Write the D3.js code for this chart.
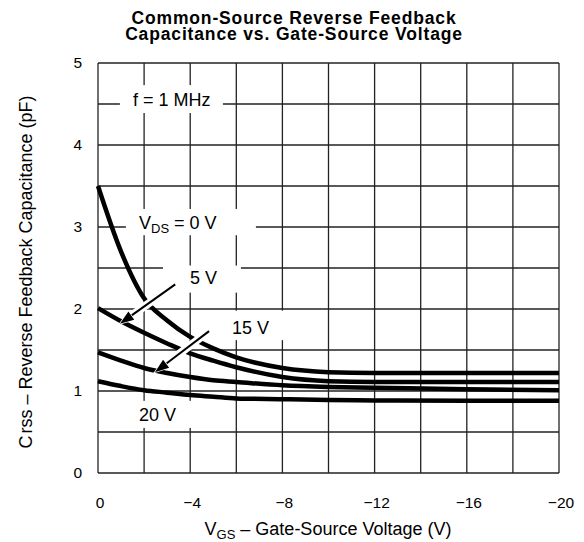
<!DOCTYPE html>
<html>
<head>
<meta charset="utf-8">
<script src="https://cdn.jsdelivr.net/npm/d3@7"></script>
<style>
  html, body { margin: 0; padding: 0; background: #fff; }
  svg { display: block; font-family: "Liberation Sans", Arial, sans-serif; }
</style>
</head>
<body>
<svg id="chart" width="584" height="542"></svg>
<script>
// ---- data ----
const vgs = [0, -1, -2, -3, -4, -5, -6, -8, -10, -12, -16, -20];
const crssVds0  = [3.50, 2.70, 2.13, 1.86, 1.66, 1.52, 1.41, 1.28, 1.23, 1.22, 1.22, 1.22];
const crssVds5  = [2.01, 1.85, 1.71, 1.58, 1.46, 1.37, 1.29, 1.17, 1.12, 1.11, 1.11, 1.11];
const crssVds15 = [1.47, 1.37, 1.28, 1.22, 1.17, 1.13, 1.11, 1.07, 1.05, 1.04, 1.02, 1.01];
const crssVds20 = [1.12, 1.06, 1.01, 0.98, 0.95, 0.93, 0.91, 0.90, 0.89, 0.885, 0.88, 0.88];
const seriesNames = ["VDS = 0 V", "5 V", "15 V", "20 V"];
const xTicks = [0, -4, -8, -12, -16, -20];
const yTicks = [0, 1, 2, 3, 4, 5];
const xTickLabels = ["0", "\u22124", "\u22128", "\u221212", "\u221216", "\u221220"];
const titleLines = ["Common-Source Reverse Feedback", "Capacitance vs. Gate-Source Voltage"];

// ---- layout ----
const W = 584, H = 542;
const m = {left: 98, right: 25, top: 63, bottom: 69};
const svg = d3.select("#chart");
const x = d3.scaleLinear().domain([0, -20]).range([m.left, W - m.right]);
const y = d3.scaleLinear().domain([0, 5]).range([H - m.bottom, m.top]);

// grid
const grid = svg.append("g").attr("stroke", "#222").attr("stroke-width", 1.3);
d3.range(0, -20.001, -2).forEach(v => {
  grid.append("line").attr("x1", x(v)).attr("x2", x(v)).attr("y1", y(0)).attr("y2", y(5));
});
d3.range(0, 5.001, 0.5).forEach(v => {
  grid.append("line").attr("x1", x(0)).attr("x2", x(-20)).attr("y1", y(v)).attr("y2", y(v));
});

// label boxes (white backgrounds that break the grid)
function box(x0, x1, y0, y1) {
  svg.append("rect").attr("x", x(x0)).attr("y", y(y1))
    .attr("width", x(x1) - x(x0)).attr("height", y(y0) - y(y1)).attr("fill", "#fff");
}
box(-0.95, -5.42, 4.39, 4.73);   // f = 1 MHz
box(-1.21, -6.85, 2.90, 3.22);   // VDS = 0 V
box(-2.82, -6.2, 2.20, 2.53);    // 5 V
box(-5.0, -8.8, 1.62, 1.98);     // 15 V
box(-1.39, -4.4, 0.55, 0.88);    // 20 V

// curves
const line = d3.line().x((d, i) => x(vgs[i])).y(d => y(d)).curve(d3.curveMonotoneX);
const all = [crssVds0, crssVds5, crssVds15, crssVds20];
const curves = svg.append("g");
all.forEach(s => {
  curves.append("path").attr("d", line(s)).attr("fill", "none")
    .attr("stroke", "#000").attr("stroke-width", 4.5).attr("stroke-linecap", "butt");
});

// arrows with white halo
function arrow(x0v, y0v, x1v, y1v) {
  const X0 = x(x0v), Y0 = y(y0v), X1 = x(x1v), Y1 = y(y1v);
  const ang = Math.atan2(Y1 - Y0, X1 - X0);
  const L = 14, Wd = 5;
  const bx = X1 - L * Math.cos(ang), by = Y1 - L * Math.sin(ang);
  svg.append("line").attr("x1", X0).attr("y1", Y0).attr("x2", bx).attr("y2", by)
    .attr("stroke", "#fff").attr("stroke-width", 8);
  svg.append("line").attr("x1", X0).attr("y1", Y0).attr("x2", bx).attr("y2", by)
    .attr("stroke", "#000").attr("stroke-width", 2);
  const px = -Math.sin(ang), py = Math.cos(ang);
  svg.append("path")
    .attr("d", `M${X1},${Y1}L${bx + px * Wd},${by + py * Wd}L${bx - px * Wd},${by - py * Wd}Z`)
    .attr("fill", "#000").attr("stroke", "#fff").attr("stroke-width", 1.5).attr("paint-order", "stroke");
}
arrow(-3.35, 2.30, -0.95, 1.82);
arrow(-4.82, 1.73, -2.47, 1.23);

// annotation text
const fs = 18, sub = 13;
function label(xv, yv, parts) {
  const t = svg.append("text").attr("x", x(xv)).attr("y", y(yv) + 6.5)
    .attr("font-size", fs).attr("fill", "#000");
  parts.forEach(p => {
    const ts = t.append("tspan").text(p.t);
    if (p.sub) ts.attr("font-size", sub).attr("dy", 4);
    if (p.back) ts.attr("dy", -4);
  });
}
label(-1.52, 4.55, [{t: "f = 1 MHz"}]);
label(-1.78, 3.06, [{t: "V"}, {t: "DS", sub: true}, {t: " = 0 V", back: true}]);
label(-3.99, 2.38, [{t: "5 V"}]);
label(-5.81, 1.77, [{t: "15 V"}]);
label(-1.78, 0.71, [{t: "20 V"}]);

// axes (labels only)
const tfs = 15.5;
const xAxis = d3.axisBottom(x).tickValues(xTicks).tickSize(0).tickPadding(23.5)
  .tickFormat((d, i) => xTickLabels[i]);
const gx = svg.append("g").attr("transform", `translate(1.5,${y(0)})`).call(xAxis);
const yAxis = d3.axisLeft(y).tickValues(yTicks).tickSize(0).tickPadding(16).tickFormat(d3.format("d"));
const gy = svg.append("g").attr("transform", `translate(${x(0)},0)`).call(yAxis);
[gx, gy].forEach(g => {
  g.select(".domain").remove();
  g.selectAll("text").attr("font-size", tfs).attr("font-family", "Liberation Sans, Arial, sans-serif").attr("fill", "#000");
});

// axis titles
const xt = svg.append("text").attr("x", 328).attr("y", 534.5).attr("text-anchor", "middle")
  .attr("font-size", fs);
xt.append("tspan").text("V");
xt.append("tspan").text("GS").attr("font-size", sub).attr("dy", 4);
xt.append("tspan").text(" \u2013 Gate-Source Voltage (V)").attr("dy", -4);

const yt = svg.append("text").attr("transform", "translate(31.5,272) rotate(-90)")
  .attr("text-anchor", "middle").attr("font-size", fs);
yt.append("tspan").text("C");
yt.append("tspan").text("rss").attr("dx", 2);
yt.append("tspan").text(" \u2013 Reverse Feedback Capacitance (pF)");

// title (one text element, two lines)
const title = svg.append("text").attr("text-anchor", "middle")
  .attr("font-size", 17.5).attr("font-weight", "bold").attr("letter-spacing", 0.85);
titleLines.forEach((s, i) => {
  title.append("tspan").attr("x", 294).attr("y", 24 + i * 15.8).text(s);
});
</script>
</body>
</html>
